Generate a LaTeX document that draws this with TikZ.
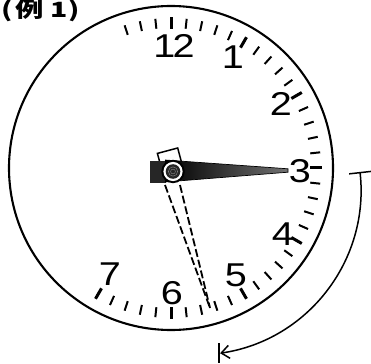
\documentclass[tikz,border=0pt]{standalone}
\usepackage{fontspec}
\setmainfont{Liberation Sans}
\newfontfamily\dialfont{Liberation Sans}[FakeStretch=1.2]
\newfontfamily\cjkfont{Noto Sans CJK JP}
\usetikzlibrary{arrows.meta}
\tikzset{
  num/.style={font=\dialfont\fontsize{33}{33}\selectfont, inner sep=0pt},
  minortick/.style={line width=2pt, line cap=butt},
  majortick/.style={line width=3pt, line cap=butt},
  dashhand/.style={line width=1.8pt, dash pattern=on 8pt off 3pt},
}
\begin{document}
\begin{tikzpicture}[x=1pt,y=-1pt]
\useasboundingbox (0,0) rectangle (371,363);
% title
\node[anchor=base west, inner sep=0pt, xscale=1.35, font=\cjkfont\bfseries\fontsize{21}{21}\selectfont] (title) at (1,17.5) {(\kern2pt例\kern5pt1\kern1pt)};
% clock face
\coordinate (c) at (171,168);
\node[circle, draw, line width=2.1pt, minimum size=324pt, inner sep=0pt] (face) at (c) {};
% ticks
\foreach \m in {-3,...,35} {
  \draw[minortick, shift={(c)}] (-90+6*\m:140) -- (-90+6*\m:150);
}
\foreach \m in {0,5,...,35} {
  \draw[majortick, shift={(c)}] (-90+6*\m:139) -- (-90+6*\m:151);
}
% numbers
\node[num] (n12) at (174,46) {1\kern-3pt2};
\node[num] (n1) at (233,57) {1};
\node[num] (n2) at (281,104) {2};
\node[num] (n3) at (300,171) {3};
\node[num] (n4) at (283,234) {4};
\node[num] (n5) at (236,275) {5};
\node[num] (n6) at (172,293) {6};
\node[num] (n7) at (110,274) {7};
% minute hand (dashed)
\coordinate (hub) at (173,171.5);
\coordinate (mtip) at (210,308);
\coordinate (ml) at (165,185);
\coordinate (mr) at (180,185);
\draw[dashhand] (ml) -- (mtip);
\draw[dashhand] (mr) -- (mtip);
% counterweight of minute hand
\filldraw[fill=white, line width=1.5pt, line join=miter] (183.1,168.3) -- (177.7,148.0) -- (157.4,153.4) -- (162.9,173.7);
% hour hand
\fill[black!85] (150,161) rectangle (166,183);
\shade[left color=black, right color=black!55] (165,160) -- (288,168.8) -- (288,172.2) -- (165,182) -- cycle;
\draw[line width=0.7pt] (165,160) -- (288,168.8) -- (288,172.2) -- (165,182);
% hub
\fill (hub) circle (11.7);
\fill[white] (hub) circle (9.6);
\fill[black!85] (hub) circle (7.3);
\draw[gray, line width=0.5pt] (hub) circle (4.6) (hub) circle (2.4);
% arrow
\coordinate (ac) at (196,190);
\draw[line width=1.5pt, {Bar[width=22pt,line width=1.5pt]}-{Straight Barb[length=8pt,width=13pt,line width=1.5pt]}]
  (ac) ++(-6.3:165) arc[start angle=-6.3, end angle=81.6, radius=165] coordinate (aend);
\draw[line width=1.5pt] (aend) ++(-1,-10) -- ++(0,20);
\end{tikzpicture}
\end{document}
